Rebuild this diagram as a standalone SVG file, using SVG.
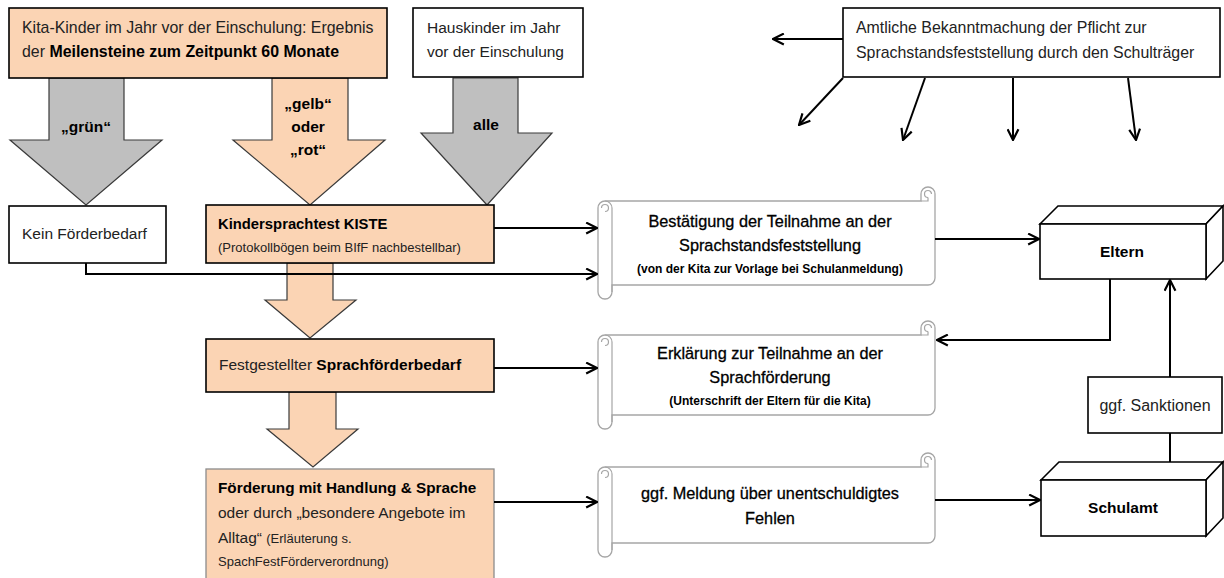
<svg xmlns="http://www.w3.org/2000/svg" width="1224" height="578" viewBox="0 0 1224 578">
<style>
text{font-family:"Liberation Sans",Arial,sans-serif;fill:#222;font-size:15.5px}
.b{font-weight:bold;fill:#000}
.s{font-size:13px}
.sb{font-size:12px;font-weight:bold;fill:#000}
.dk{fill:#000;stroke:#000;stroke-width:0.3;font-size:16.3px}
.l{font-size:15.9px}
.c{text-anchor:middle}
.box{stroke:#000;stroke-width:1.6}
.peach{fill:#FBD4B4}
.white{fill:#fff}
.blk{stroke:#3a3a3a;stroke-width:1.2}
.gray{fill:#BFBFBF}
.scroll{fill:#fff;stroke:#a6a6a6;stroke-width:1.3}
.sd{fill:none;stroke:#a6a6a6;stroke-width:1.2}
.con{fill:none;stroke:#000;stroke-width:2}
.ar{marker-end:url(#ah)}
</style>
<defs>
<marker id="ah" viewBox="0 0 12 12" refX="11" refY="6" markerWidth="13" markerHeight="13" markerUnits="userSpaceOnUse" orient="auto">
<path d="M1,1 L11,6 L1,11" fill="none" stroke="#000" stroke-width="2"/>
</marker>
</defs>
<rect width="1224" height="578" fill="#fff"/>

<!-- block arrows -->
<g id="arrow-gruen">
<polygon class="gray blk" points="49,78 124,78 124,140 162,140 86,205 10,140 49,140"/>
<text class="b c" x="86" y="132">„grün“</text>
</g>
<g id="arrow-gelb-rot">
<polygon class="peach blk" points="272,78 348,78 348,140 385,140 310,205 233,140 272,140"/>
<text class="b c" x="308" y="109">„gelb“</text>
<text class="b c" x="308" y="132">oder</text>
<text class="b c" x="308" y="155">„rot“</text>
</g>
<g id="arrow-alle">
<polygon class="gray blk" points="453,78 518,78 518,133 552,133 487,205 421,133 453,133"/>
<text class="b c" x="486" y="130">alle</text>
</g>
<g id="arrow-kiste">
<polygon class="peach blk" points="287,263 333,263 333,300 356,300 310,338 265,300 287,300"/>
</g>
<g id="arrow-foerderbedarf">
<polygon class="peach blk" points="289,392 336,392 336,429 358,429 313,467 267,429 289,429"/>
</g>

<!-- top boxes -->
<g id="kita-kinder">
<rect class="peach box" x="9" y="8" width="378" height="70"/>
<text class="l" x="22" y="33">Kita-Kinder im Jahr vor der Einschulung: Ergebnis</text>
<text class="l" x="22" y="57">der <tspan class="b">Meilensteine zum Zeitpunkt 60 Monate</tspan></text>
</g>
<g id="hauskinder">
<rect class="white box" x="413" y="8" width="170" height="69"/>
<text x="427" y="33">Hauskinder im Jahr</text>
<text x="427" y="57">vor der Einschulung</text>
</g>
<g id="amtliche">
<rect class="white box" x="843" y="8" width="377" height="69"/>
<text class="l" x="856" y="33">Amtliche Bekanntmachung der Pflicht zur</text>
<text class="l" x="856" y="58">Sprachstandsfeststellung durch den Schulträger</text>
</g>

<!-- left column -->
<g id="kein-foerderbedarf">
<rect class="white box" x="9" y="206" width="157" height="57"/>
<text x="22" y="239">Kein Förderbedarf</text>
</g>
<g id="kiste">
<rect class="peach box" x="206" y="205" width="288" height="58"/>
<text class="b" x="218" y="229" style="font-size:14.8px">Kindersprachtest KISTE</text>
<text class="s" x="218" y="252">(Protokollbögen beim BIfF nachbestellbar)</text>
</g>
<g id="festgestellter">
<rect class="peach box" x="206" y="339" width="288" height="53"/>
<text x="219" y="370">Festgestellter <tspan class="b">Sprachförderbedarf</tspan></text>
</g>
<g id="foerderung">
<rect class="peach" x="206" y="469" width="288" height="112" stroke="#8c8c8c" stroke-width="1.3"/>
<text class="b" x="218" y="493" style="font-size:15.3px">Förderung mit Handlung &amp; Sprache</text>
<text x="218" y="518">oder durch „besondere Angebote im</text>
<text x="218" y="543">Alltag“ <tspan class="s">(Erläuterung s.</tspan></text>
<text class="s" x="218" y="566">SpachFestFörderverordnung)</text>
</g>

<!-- scrolls -->
<g id="scroll-bestaetigung">
<path class="scroll" d="M598,208 A7,7 0 0 1 605,201 L921,201 L921,194 A7,7 0 0 1 935,194 L935,278 A7,7 0 0 1 928,285 L612,285 L612,292 A7,7 0 0 1 598,292 Z"/>
<path class="sd" d="M605,201 A7,7 0 0 1 612,208 L612,292 M601.5,208 A3.5,3.5 0 0 1 608.5,208 A3.5,3.5 0 0 1 605,211.5 M921,201 L928,201 L928,197.5 M931.5,194 A3.5,3.5 0 0 0 924.5,194 A3.5,3.5 0 0 0 928,197.5"/>
<text class="c dk" x="770" y="227">Bestätigung der Teilnahme an der</text>
<text class="c dk" x="770" y="251">Sprachstandsfeststellung</text>
<text class="c sb" x="770" y="273">(von der Kita zur Vorlage bei Schulanmeldung)</text>
</g>
<g id="scroll-erklaerung">
<path class="scroll" d="M598,342 A7,7 0 0 1 605,335 L921,335 L921,328 A7,7 0 0 1 935,328 L935,408 A7,7 0 0 1 928,415 L612,415 L612,422 A7,7 0 0 1 598,422 Z"/>
<path class="sd" d="M605,335 A7,7 0 0 1 612,342 L612,422 M601.5,342 A3.5,3.5 0 0 1 608.5,342 A3.5,3.5 0 0 1 605,345.5 M921,335 L928,335 L928,331.5 M931.5,328 A3.5,3.5 0 0 0 924.5,328 A3.5,3.5 0 0 0 928,331.5"/>
<text class="c dk" x="770" y="359">Erklärung zur Teilnahme an der</text>
<text class="c dk" x="770" y="383">Sprachförderung</text>
<text class="c sb" x="770" y="405">(Unterschrift der Eltern für die Kita)</text>
</g>
<g id="scroll-meldung">
<path class="scroll" d="M598,474 A7,7 0 0 1 605,467 L921,467 L921,460 A7,7 0 0 1 935,460 L935,536 A7,7 0 0 1 928,543 L612,543 L612,550 A7,7 0 0 1 598,550 Z"/>
<path class="sd" d="M605,467 A7,7 0 0 1 612,474 L612,550 M601.5,474 A3.5,3.5 0 0 1 608.5,474 A3.5,3.5 0 0 1 605,477.5 M921,467 L928,467 L928,463.5 M931.5,460 A3.5,3.5 0 0 0 924.5,460 A3.5,3.5 0 0 0 928,463.5"/>
<text class="c dk" x="770" y="499">ggf. Meldung über unentschuldigtes</text>
<text class="c dk" x="770" y="524">Fehlen</text>
</g>

<!-- right column -->
<g id="eltern">
<polygon class="white box" points="1040,224 1058,206 1223,206 1206,224"/>
<polygon class="white box" points="1206,224 1223,206 1223,261 1206,279"/>
<rect class="white box" x="1040" y="224" width="166" height="55"/>
<text class="b c" x="1122" y="257">Eltern</text>
</g>
<g id="sanktionen">
<rect class="white box" x="1088" y="377" width="134" height="56"/>
<text class="c" x="1155" y="411" style="font-size:16px">ggf. Sanktionen</text>
</g>
<g id="schulamt">
<polygon class="white box" points="1041,480 1059,462 1223,462 1206,480"/>
<polygon class="white box" points="1206,480 1223,462 1223,518 1206,536"/>
<rect class="white box" x="1041" y="480" width="165" height="56"/>
<text class="b c" x="1123" y="513">Schulamt</text>
</g>

<!-- connectors -->
<g id="connectors">
<path class="con ar" d="M494,228 H597"/>
<path class="con ar" d="M86,263 V274 H597"/>
<path class="con ar" d="M494,368 H597"/>
<path class="con ar" d="M494,502 H597"/>
<path class="con ar" d="M935,239 H1039"/>
<path class="con ar" d="M1110,279 V340 H937"/>
<path class="con ar" d="M935,500 H1040"/>
<path class="con ar" d="M1170,377 V280"/>
<path class="con" d="M1170,462 V433"/>
<path class="con ar" d="M843,39 H773"/>
<path class="con ar" d="M843,78 L799,125"/>
<path class="con ar" d="M925,78 L903,140"/>
<path class="con ar" d="M1013,78 V140"/>
<path class="con ar" d="M1128,78 L1136,140"/>
</g>
</svg>
